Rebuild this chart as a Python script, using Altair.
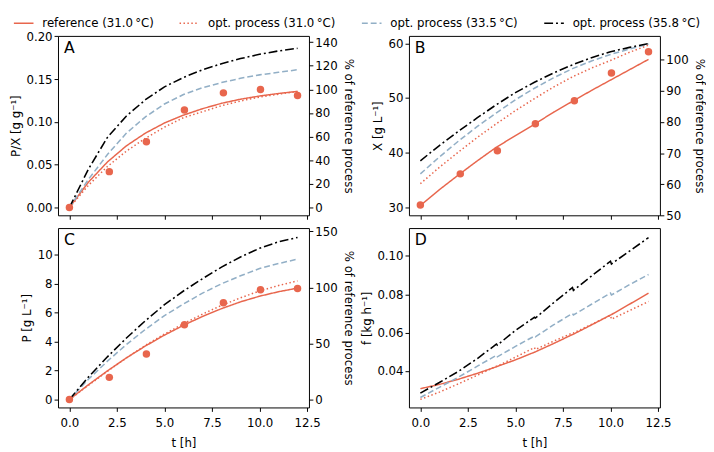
import altair as alt
import pandas as pd

# ---------------- data ----------------
SERIES = ["reference (31.0\u2009°C)", "opt. process (31.0\u2009°C)",
          "opt. process (33.5\u2009°C)", "opt. process (35.8\u2009°C)"]
COLORS = ["#E8664D", "#E8664D", "#92AFC6", "#000000"]
DASHES = [[1, 0], [1.5, 2.5], [6, 3], [9, 3, 2, 3]]
WIDTHS = [1.5, 1.6, 1.5, 1.8]

T = [0, 1, 2, 3, 4, 5, 6, 7, 8, 9, 10, 11, 12]
T_PTS = [0, 2.1, 4.05, 6.05, 8.1, 10.05, 12.0]
T_D = [0, 1, 2, 3, 4, 4.05, 5, 6, 6.05, 7, 8, 8.05, 9, 10, 10.05, 11, 12]

# Panel A: P/X
A_ref = [0, 0.0297, 0.0533, 0.0722, 0.087, 0.0988, 0.108, 0.1155, 0.1218, 0.1266, 0.1303, 0.1333, 0.1357]
A_o31 = [0, 0.026, 0.048, 0.066, 0.081, 0.094, 0.105, 0.112, 0.119, 0.1245, 0.129, 0.1325, 0.1355]
A_o33 = [0, 0.033, 0.062, 0.087, 0.106, 0.121, 0.132, 0.140, 0.146, 0.151, 0.155, 0.158, 0.161]
A_o35 = [0, 0.045, 0.082, 0.107, 0.126, 0.141, 0.152, 0.161, 0.168, 0.174, 0.179, 0.183, 0.186]
A_pts = [0, 0.042, 0.077, 0.114, 0.134, 0.138, 0.131]

# Panel B: X
B_ref = [30.3, 33.2, 35.9, 38.5, 41.0, 43.1, 45.2, 47.4, 49.4, 51.4, 53.3, 55.2, 57.1]
B_o31 = [34.3, 37.3, 40.1, 42.8, 45.3, 47.7, 49.9, 52.0, 53.9, 55.5, 56.9, 58.4, 59.7]
B_o33 = [36.1, 39.2, 42.1, 44.8, 47.3, 49.7, 51.8, 53.7, 55.4, 56.8, 58.0, 59.0, 59.9]
B_o35 = [38.5, 41.3, 43.9, 46.4, 48.8, 51.0, 52.9, 54.6, 56.1, 57.4, 58.5, 59.3, 60.0]
B_pts = [30.4, 36.1, 40.35, 45.3, 49.5, 54.6, 58.5]

# Panel C: P
C_ref = [0, 1.02, 1.98, 2.88, 3.70, 4.45, 5.13, 5.74, 6.28, 6.75, 7.14, 7.45, 7.70]
C_o31 = [0, 0.98, 1.95, 2.88, 3.74, 4.52, 5.24, 5.90, 6.50, 7.03, 7.50, 7.88, 8.20]
C_o33 = [0, 1.40, 2.65, 3.80, 4.85, 5.80, 6.60, 7.35, 8.00, 8.55, 9.05, 9.40, 9.70]
C_o35 = [0, 1.55, 2.95, 4.25, 5.45, 6.55, 7.50, 8.35, 9.15, 9.85, 10.45, 10.90, 11.20]
C_pts = [0, 1.53, 3.14, 5.17, 6.68, 7.58, 7.67]

# Panel D: f (feed rate)
D_ref = [0.0308, 0.0330, 0.0357, 0.0388, 0.0422, 0.0424, 0.0458, 0.0498, 0.0500, 0.0543, 0.0590, 0.0592,
         0.0640, 0.0692, 0.0694, 0.0748, 0.0806]
D_o31 = [0.0252, 0.0290, 0.0333, 0.0378, 0.0425, 0.0425, 0.0472, 0.0522, 0.0512, 0.0555, 0.0598, 0.0598,
         0.0643, 0.0690, 0.0670, 0.0715, 0.0762]
D_o33 = [0.0262, 0.0315, 0.0368, 0.0425, 0.0482, 0.0474, 0.0528, 0.0582, 0.0578, 0.0640, 0.0700, 0.0692,
         0.0748, 0.0806, 0.0796, 0.0850, 0.0903]
D_o35 = [0.0285, 0.0340, 0.0398, 0.0465, 0.0540, 0.0535, 0.0612, 0.0680, 0.0676, 0.0755, 0.0835, 0.0820,
         0.0895, 0.0972, 0.0958, 0.1025, 0.1095]

X_TICKS = [0, 2.5, 5, 7.5, 10, 12.5]
X_DOM = [-0.6, 12.6]

A_TICKS = [0, 0.05, 0.10, 0.15, 0.20]
B_TICKS = [30, 40, 50, 60]
C_TICKS = [0, 2, 4, 6, 8, 10]
D_TICKS = [0.04, 0.06, 0.08, 0.10]
A_RTICKS = [0, 20, 40, 60, 80, 100, 120, 140]
B_RTICKS = [50, 60, 70, 80, 90, 100]
C_RTICKS = [0, 50, 100, 150]

A_DOM = [-0.009, 0.2005]
B_DOM = [28.5, 61.4]
C_DOM = [-0.55, 11.85]
D_DOM = [0.021, 0.1145]
A_REF, B_REF, C_REF = 0.138, 57.0, 7.75

RED = COLORS[0]
W, H = 256, 183


def lines_frame(t, series_vals):
    rows = []
    for name, vals in zip(SERIES, series_vals):
        for i, (tt, v) in enumerate(zip(t, vals)):
            rows.append({"t": tt, "v": v, "series": name, "i": i})
    return pd.DataFrame(rows)


def panel(t, series_vals, pts, ydom, yticks, yfmt, ytitle, letter, show_x,
          ref=None, rticks=None):
    xax = alt.Axis(values=X_TICKS, format=".1f", labels=show_x,
                   title="t [h]" if show_x else None, labelPadding=6, titlePadding=10)
    x = alt.X("t:Q", scale=alt.Scale(domain=X_DOM, nice=False, zero=False), axis=xax)
    y = alt.Y("v:Q", scale=alt.Scale(domain=ydom, nice=False, zero=False),
              axis=alt.Axis(values=yticks, format=yfmt, title=ytitle))
    color = alt.Color("series:N", scale=alt.Scale(domain=SERIES, range=COLORS),
                      legend=alt.Legend(orient="none", legendX=-46, legendY=-24,
                                        direction="horizontal", title=None, padding=0,
                                        symbolType="stroke", symbolSize=400,
                                        symbolStrokeWidth=1.6, labelFontSize=12,
                                        labelOffset=8, columnPadding=22,
                                        labelColor="black"))
    dash = alt.StrokeDash("series:N", scale=alt.Scale(domain=SERIES, range=DASHES))
    width = alt.StrokeWidth("series:N", scale=alt.Scale(domain=SERIES, range=WIDTHS), legend=None)
    lines = alt.Chart(lines_frame(t, series_vals)).mark_line().encode(
        x=x, y=y, color=color, strokeDash=dash, strokeWidth=width, order="i:Q")
    layers = [lines]
    if pts is not None:
        pdf = pd.DataFrame({"t": T_PTS, "v": pts})
        layers.append(alt.Chart(pdf).mark_circle(size=58, color=RED, opacity=1).encode(x=x, y=y))
    lab = alt.Chart(pd.DataFrame({"lab": [letter]})).mark_text(
        align="left", baseline="top", fontSize=16, color="black").encode(
        x=alt.value(6), y=alt.value(4), text="lab:N")
    layers.append(lab)
    left = alt.layer(*layers)
    if ref is None:
        return left.properties(width=W, height=H)
    pdf = pd.DataFrame({"t": T_PTS, "v": pts})
    rdom = [ydom[0] / ref * 100, ydom[1] / ref * 100]
    right = alt.Chart(pdf).transform_calculate(pct=f"datum.v / {ref} * 100").mark_point(
        opacity=0).encode(
        x=x,
        y=alt.Y("pct:Q", scale=alt.Scale(domain=rdom, nice=False, zero=False),
                axis=alt.Axis(orient="right", values=rticks, format="d",
                              title="% of reference process")))
    return alt.layer(left, right).resolve_scale(y="independent").properties(width=W, height=H)


pA = panel(T, [A_ref, A_o31, A_o33, A_o35], A_pts, A_DOM, A_TICKS, ".2f",
           "P/X [g g\u207b\u00b9]", "A", False, A_REF, A_RTICKS)
pB = panel(T, [B_ref, B_o31, B_o33, B_o35], B_pts, B_DOM, B_TICKS, "d",
           "X [g L\u207b\u00b9]", "B", False, B_REF, B_RTICKS)
pC = panel(T, [C_ref, C_o31, C_o33, C_o35], C_pts, C_DOM, C_TICKS, "d",
           "P [g L\u207b\u00b9]", "C", True, C_REF, C_RTICKS)
pD = panel(T_D, [D_ref, D_o31, D_o33, D_o35], None, D_DOM, D_TICKS, ".2f",
           "f [kg h\u207b\u00b9]", "D", True)

chart = alt.concat(pA, pB, pC, pD, columns=2, spacing={"row": 13, "column": 102},
                   bounds="flush").properties(
    padding={"left": 0, "top": 0, "right": 0, "bottom": 0}
).configure(font="DejaVu Sans").configure_view(
    stroke="black", strokeWidth=1
).configure_axis(
    grid=False, domain=False, tickColor="black", tickSize=4, tickWidth=1,
    labelFontSize=12, titleFontSize=12, labelColor="black", titleColor="black",
    titleFontWeight="normal", labelPadding=2, titlePadding=4
).configure_legend(labelFont="DejaVu Sans")

chart.save("out.html", embed_options={"renderer": "svg", "actions": False})
